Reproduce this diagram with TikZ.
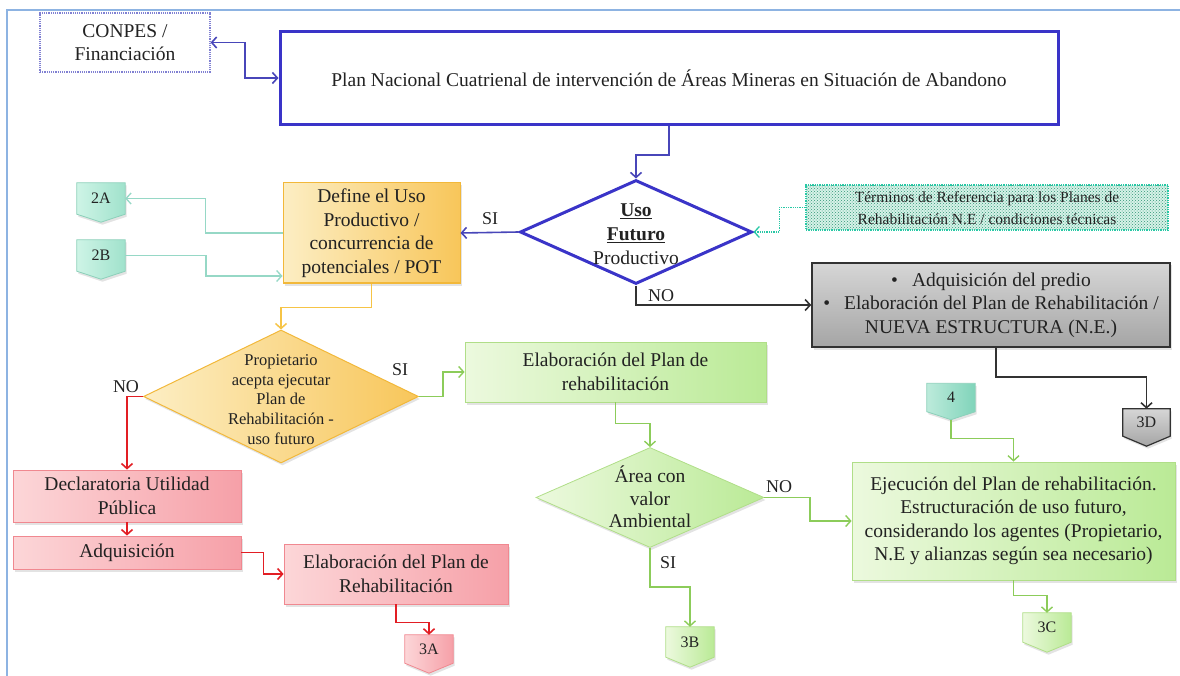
\documentclass[tikz,border=0pt]{standalone}
\usepackage{fontspec}
\setmainfont{Liberation Serif}
\usetikzlibrary{arrows.meta,shapes.geometric,shadows,patterns,calc}
\pgfdeclarelayer{bg}
\pgfsetlayers{bg,main}

\definecolor{framec}{RGB}{141,179,226}
\definecolor{navy}{RGB}{58,52,200}
\definecolor{navyln}{RGB}{72,70,185}
\definecolor{conpesc}{RGB}{128,128,210}
\definecolor{tealA}{RGB}{206,244,230}
\definecolor{tealB}{RGB}{160,226,204}
\definecolor{tealE}{RGB}{140,208,186}
\definecolor{tealln}{RGB}{150,216,198}
\definecolor{tealdk}{RGB}{128,212,186}
\definecolor{termln}{RGB}{40,200,165}
\definecolor{termdot}{RGB}{50,150,118}
\definecolor{termbg}{RGB}{214,242,232}
\definecolor{yelA}{RGB}{252,238,196}
\definecolor{yelB}{RGB}{248,198,90}
\definecolor{yelE}{RGB}{242,184,58}
\definecolor{yelln}{RGB}{246,196,70}
\definecolor{redln}{RGB}{226,30,36}
\definecolor{redA}{RGB}{252,214,216}
\definecolor{redB}{RGB}{246,160,168}
\definecolor{redE}{RGB}{240,136,144}
\definecolor{grnA}{RGB}{236,249,222}
\definecolor{grnB}{RGB}{186,234,150}
\definecolor{grnE}{RGB}{176,222,136}
\definecolor{grnln}{RGB}{140,204,90}
\definecolor{gryA}{RGB}{214,214,214}
\definecolor{gryB}{RGB}{165,165,165}
\definecolor{gryln}{RGB}{50,50,50}
\definecolor{ink}{RGB}{34,34,34}

% off-page connector: pentagon drawn round a named rectangular node
\newcommand{\offpg}[3]{%
  \path[#2] (#1.north west) -- (#1.north east) -- (#1.south east)
    -- ([yshift=-#3]#1.south) -- (#1.south west) -- cycle;}

\begin{document}
\begin{tikzpicture}[x=1pt,y=-1pt,
  txt/.style={font=\fontsize{19.5}{23.5}\selectfont, text=ink, align=center},
  smalltxt/.style={font=\fontsize{16.5}{19.7}\selectfont, text=ink, align=center},
  lbl/.style={font=\fontsize{18}{20}\selectfont, text=ink},
  box/.style={rectangle, inner sep=0pt},
  shad/.style={drop shadow={opacity=0.22, shadow xshift=1.5pt, shadow yshift=-2.5pt}},
  yelbox/.style={box, draw=yelE, line width=1pt, left color=yelA, right color=yelB, shad},
  redbox/.style={box, draw=redE, line width=0.8pt, left color=redA, right color=redB, shad},
  grnbox/.style={box, draw=grnE, line width=0.8pt, left color=grnA, right color=grnB, shad},
  pg/.style={box, font=\fontsize{16}{18}\selectfont, text=ink, minimum width=48pt},
  arr/.style={-{Straight Barb[length=5pt,width=11pt]}},
  bluearr/.style={arr, draw=navyln, line width=1.6pt},
  redarr/.style={arr, draw=redln, line width=1.6pt},
  grnarr/.style={arr, draw=grnln, line width=1.4pt},
  yelarr/.style={arr, draw=yelln, line width=1.5pt},
  tealarr/.style={arr, draw=tealln, line width=1.3pt},
  gryarr/.style={arr, draw=gryln, line width=1.6pt},
]
\useasboundingbox (0,0) rectangle (1180,676);

% page frame
\draw[framec, line width=1.4pt] (7,676) -- (7,10) -- (1180,10);

% ---------- top row ----------
\node[box, txt, draw=conpesc, densely dotted, line width=1.2pt,
      minimum width=170pt, minimum height=59pt] (conpes) at (125,42.5)
      {CONPES /\\Financiación};
\node[box, txt, draw=navy, fill=white, line width=3pt,
      minimum width=778pt, minimum height=93pt] (plan) at (669,78)
      {Plan Nacional Cuatrienal de intervención de Áreas Mineras en Situación de Abandono};

% ---------- decision: future use ----------
\node[diamond, draw=navy, fill=white, line width=3pt, inner sep=0pt,
      minimum width=232pt, minimum height=104pt] (uso) at (636,232) {};
\node[txt, font=\fontsize{19.5}{24}\selectfont] (usot) at (636,234)
      {\textbf{\underline{Uso}}\\\textbf{\underline{Futuro}}\\Productivo};

\node[yelbox, txt, minimum width=177pt, minimum height=100pt] (define) at (371.5,233)
      {Define el Uso\\Productivo /\\concurrencia de\\potenciales / POT};

\node[box, draw=termln, densely dotted, line width=1.3pt,
      preaction={fill=termbg}, pattern=crosshatch dots, pattern color=termdot,
      minimum width=362pt, minimum height=45pt] (terms) at (987,207.5) {};
\node[font=\fontsize{15.5}{22}\selectfont, text=ink, align=center] (termst) at (987,208)
      {Términos de Referencia para los Planes de\\Rehabilitación N.E / condiciones técnicas};

\node[box, txt, draw=gryln, line width=1.6pt, top color=gryA, bottom color=gryB, shad,
      minimum width=358pt, minimum height=84pt] (gray) at (991,305)
      {\textbullet\hspace{14pt}Adquisición del predio\\
       \textbullet\hspace{14pt}Elaboración del Plan de Rehabilitación /\\
       NUEVA ESTRUCTURA (N.E.)};

% off-page connectors
\node[pg, minimum height=31pt] (a2) at (101,198.5) {2A};
\node[pg, minimum height=31pt] (b2) at (101,255.5) {2B};
\node[pg, minimum height=28pt] (n4) at (951,397.5) {4};
\node[pg, minimum height=27pt, minimum width=47pt] (d3) at (1146.5,422.5) {3D};
\node[pg, minimum height=28pt] (a3) at (429,649) {3A};
\node[pg, minimum height=30pt] (b3) at (690,642) {3B};
\node[pg, minimum height=29pt] (c3) at (1047,627.5) {3C};

\begin{pgfonlayer}{bg}
  \offpg{a2}{draw=tealE, line width=0.8pt, left color=tealA, right color=tealB, shad}{8pt}
  \offpg{b2}{draw=tealE, line width=0.8pt, left color=tealA, right color=tealB, shad}{8pt}
  \offpg{n4}{draw=tealE, line width=0.8pt, left color=tealB!70, right color=tealdk, shad}{8pt}
  \offpg{d3}{draw=gryln, line width=1.2pt, top color=gryA, bottom color=gryB, shad}{10pt}
  \offpg{a3}{draw=redE, line width=0.8pt, left color=redA, right color=redB, shad}{10pt}
  \offpg{b3}{draw=grnE, line width=0.8pt, left color=grnA, right color=grnB, shad}{10pt}
  \offpg{c3}{draw=grnE, line width=0.8pt, left color=grnA, right color=grnB, shad}{10pt}
\end{pgfonlayer}

% ---------- owner decision ----------
\node[diamond, draw=yelE, line width=1pt, inner sep=0pt, left color=yelA, right color=yelB, shad,
      minimum width=275pt, minimum height=133pt] (prop) at (281,396.5) {};
\node[smalltxt] (propt) at (281,399.5)
      {Propietario\\acepta ejecutar\\Plan de\\Rehabilitación -\\uso futuro};

% red branch
\node[redbox, txt, minimum width=228pt, minimum height=52pt] (decl) at (127,496)
      {Declaratoria Utilidad\\Pública};
\node[redbox, txt, minimum width=228pt, minimum height=33pt] (adq) at (127,552.5)
      {Adquisición};
\node[redbox, txt, minimum width=224pt, minimum height=60pt] (elabr) at (396,574)
      {Elaboración del Plan de\\Rehabilitación};

% green branch
\node[grnbox, txt, minimum width=301pt, minimum height=60pt] (elabg) at (615.5,372)
      {Elaboración del Plan de\\rehabilitación};
\node[diamond, draw=grnE, line width=0.8pt, inner sep=0pt, left color=grnA, right color=grnB, shad,
      minimum width=228pt, minimum height=100pt] (area) at (650,497.5) {};
\node[txt, font=\fontsize{19.5}{22.5}\selectfont] (areat) at (650,497)
      {Área con\\valor\\Ambiental};
\node[grnbox, txt, minimum width=323pt, minimum height=118pt] (ejec) at (1013.5,521)
      {Ejecución del Plan de rehabilitación.\\Estructuración de uso futuro,\\
       considerando los agentes (Propietario,\\N.E y alianzas según sea necesario)};

% ---------- connectors ----------
\draw[bluearr, {Straight Barb[length=5pt,width=11pt]}-{Straight Barb[length=5pt,width=11pt]}]
  (conpes.east) -- (245,42.5) |- (plan.west);
\draw[bluearr] (plan.south) -- ++(0,29) -| (uso.north);
\draw[bluearr] (uso.west) -- (define.east);
\node[lbl] (siuso) at (490,219) {SI};

\draw[arr, draw=termln, line width=1.3pt, densely dotted] (terms.west) -- ++(-26,0) |- (uso.east);

\draw[gryarr] (uso.south) |- (gray.west);
\node[lbl] (nouso) at (661,296) {NO};
\draw[gryarr] ([xshift=5pt]gray.south) -- ++(0,29) -| (d3.north);

\draw[tealarr] (define.west) -- ++(-77,0) |- (a2.east);
\draw[tealarr] (b2.east) -- (206,255.5) |- ([yshift=-43pt]define.west);

\draw[yelarr] (define.south) -- ++(0,24) -| (prop.north);

\draw[redarr] (prop.west) -| (decl.north);
\node[lbl] (noprop) at (126,387) {NO};
\draw[redarr] (decl.south) -- (adq.north);
\draw[redarr] (adq.east) -- ++(22,0) |- (elabr.west);
\draw[redarr] (elabr.south) -- ++(0,18) -| (a3.north);

\draw[grnarr] (prop.east) -- ++(24,0) |- (elabg.west);
\node[lbl] (siprop) at (400,370) {SI};
\draw[grnarr] (elabg.south) -- ++(0,21) -| (area.north);
\draw[grnarr] (area.east) -- (810,497.5) |- (ejec.west);
\node[lbl] (noarea) at (779,487) {NO};
\draw[grnarr] (area.south) -- ++(0,39) -| (b3.north);
\node[lbl] (siarea) at (668,563) {SI};
\draw[grnarr] ([yshift=-8pt]n4.south) -- ++(0,19) -| (ejec.north);
\draw[grnarr] (ejec.south) -- ++(0,15) -| (c3.north);
\end{tikzpicture}
\end{document}
